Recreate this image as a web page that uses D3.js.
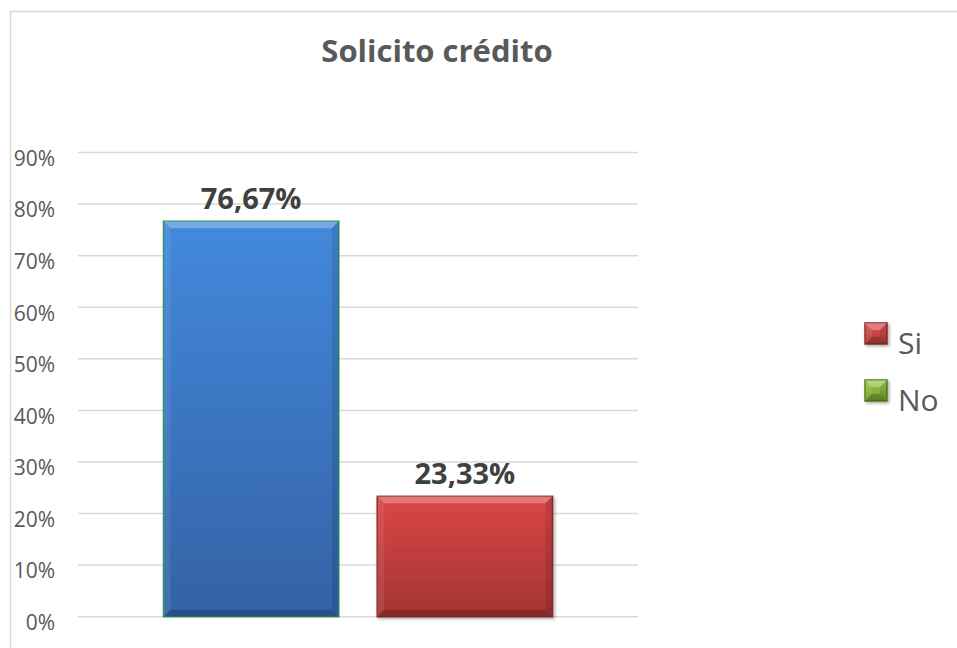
<!DOCTYPE html>
<html><head><meta charset="utf-8">
<script src="https://cdn.jsdelivr.net/npm/d3@7"></script>
<style>body{margin:0;background:#fff}</style></head>
<body>
<svg id="c" width="957" height="648"></svg>
<script>
// ---- data ----
const chartTitle = "Solicito crédito";
const barCategories = ["A", "B"];
const barValues = [76.67, 23.33];
const tickValues = [0, 10, 20, 30, 40, 50, 60, 70, 80, 90];
const tickLabels = ["0%", "10%", "20%", "30%", "40%", "50%", "60%", "70%", "80%", "90%"];
const legendItems = ["Si", "No"];

// ---- styles ----
const barFills = [["#4389dc", "#3462a5"], ["#da4646", "#a53434"]];
const barStrokes = ["#24915f", "#8a2c2c"];
const legendFills = [["#e05050", "#b03838"], ["#9ccc4a", "#6e9a2c"]];
const legendStrokes = ["#8a2c2c", "#5a7d22"];
const textColor = "#595959";
const gridColor = "#d9d9d9";

const svg = d3.select("#c");
const defs = svg.append("defs");
function grad(id, c) {
  const g = defs.append("linearGradient").attr("id", id).attr("x1", 0).attr("y1", 0).attr("x2", 0).attr("y2", 1);
  g.append("stop").attr("offset", "0%").attr("stop-color", c[0]);
  g.append("stop").attr("offset", "100%").attr("stop-color", c[1]);
}
barFills.forEach((c, i) => grad("bg" + i, c));
legendFills.forEach((c, i) => grad("lg" + i, c));
const sh = defs.append("filter").attr("id", "sh").attr("x", "-10%").attr("y", "-10%").attr("width", "130%").attr("height", "130%");
sh.append("feDropShadow").attr("dx", 1.5).attr("dy", 1.5).attr("stdDeviation", 1.5).attr("flood-color", "#000").attr("flood-opacity", 0.35);

// frame
svg.append("path").attr("d", "M10.5,648 V11.5 H957").attr("fill", "none").attr("stroke", gridColor).attr("stroke-width", 1.5);

const y = d3.scaleLinear().domain([0, 90]).range([616.7, 152.5]);
const x = d3.scaleBand().domain(barCategories).range([78, 638]).paddingInner(0.18).paddingOuter(0.4);

// gridlines
svg.append("g").selectAll("line").data(tickValues).join("line")
  .attr("x1", 78).attr("x2", 638)
  .attr("y1", d => y(d)).attr("y2", d => y(d))
  .attr("stroke", gridColor).attr("stroke-width", 1.5);

// y labels
svg.append("g").selectAll("text").data(tickValues).join("text")
  .attr("x", 55).attr("y", d => y(d) + 6)
  .attr("dy", "0.35em")
  .attr("text-anchor", "end")
  .attr("font-family", "Open Sans").attr("font-size", 21).attr("fill", textColor)
  .text((d, i) => tickLabels[i]);

// bevel box
function bevelBox(g, x0, y0, w, h, fillId, stroke, b) {
  g.append("rect").attr("x", x0).attr("y", y0).attr("width", w).attr("height", h)
    .attr("fill", `url(#${fillId})`).attr("stroke", stroke).attr("stroke-width", 1.5);
  const x1 = x0 + w, y1 = y0 + h;
  const poly = (pts, col, op) => g.append("polygon").attr("points", pts.map(p => p.join(",")).join(" ")).attr("fill", col).attr("opacity", op);
  poly([[x0, y0], [x1, y0], [x1 - b, y0 + b], [x0 + b, y0 + b]], "#fff", 0.28);
  poly([[x0, y0], [x0 + b, y0 + b], [x0 + b, y1 - b], [x0, y1]], "#fff", 0.08);
  poly([[x1, y0], [x1, y1], [x1 - b, y1 - b], [x1 - b, y0 + b]], "#000", 0.10);
  poly([[x0, y1], [x0 + b, y1 - b], [x1 - b, y1 - b], [x1, y1]], "#000", 0.18);
}

// bars
const fmt = d3.formatLocale({decimal: ",", thousands: ".", grouping: [3], currency: ["", "€"]}).format(".2f");
barCategories.forEach((c, i) => {
  const g = svg.append("g").attr("filter", i === 1 ? "url(#sh)" : null);
  bevelBox(g, x(c), y(barValues[i]), x.bandwidth(), y(0) - y(barValues[i]), "bg" + i, barStrokes[i], 7);
});
svg.append("g").selectAll("text").data(barValues).join("text")
  .attr("x", (d, i) => x(barCategories[i]) + x.bandwidth() / 2)
  .attr("y", d => y(d) - 12)
  .attr("text-anchor", "middle")
  .attr("font-family", "Open Sans").attr("font-weight", "bold").attr("font-size", 29).attr("fill", "#404040")
  .text(d => fmt(d) + "%");

// title
svg.append("text").attr("x", 437).attr("y", 62).attr("text-anchor", "middle")
  .attr("font-family", "Open Sans").attr("font-weight", "bold").attr("font-size", 31).attr("fill", textColor)
  .text(chartTitle);

// legend
const lg = svg.append("g").attr("transform", "translate(865,323)");
legendItems.forEach((d, i) => {
  const g = lg.append("g").attr("transform", `translate(0,${i * 57})`).attr("filter", "url(#sh)");
  bevelBox(g, 0, 0, 22, 21, "lg" + i, legendStrokes[i], 7);
  lg.append("text").attr("x", 33).attr("y", i * 57 + 31)
    .attr("font-family", "Open Sans").attr("font-size", 30).attr("fill", textColor).text(d);
});
</script>
</body></html>
